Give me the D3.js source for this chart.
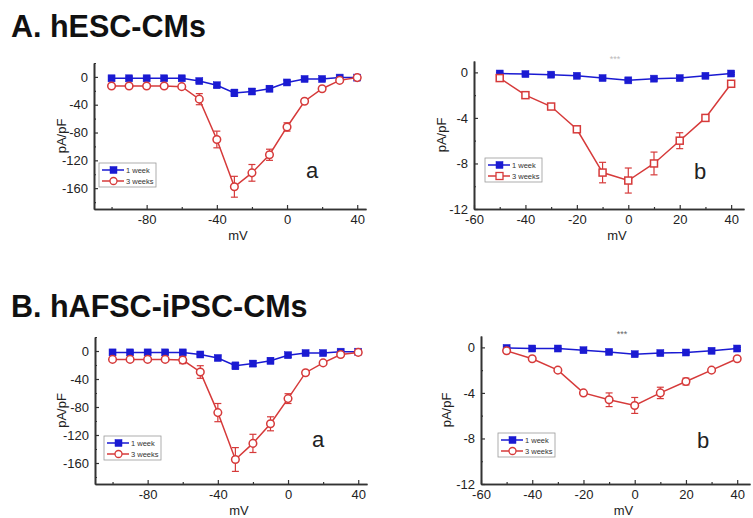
<!DOCTYPE html>
<html>
<head>
<meta charset="utf-8">
<script src="https://cdn.jsdelivr.net/npm/d3@7"></script>
<style>
  body { margin: 0; background: #fff; }
  text { font-family: "Liberation Sans", Arial, sans-serif; }
</style>
</head>
<body>
<svg id="chart" width="753" height="518"></svg>
<script>
// voltages (mV)
const mvWide = [-100, -90, -80, -70, -60, -50, -40, -30, -20, -10, 0, 10, 20, 30, 40];
const mvNarrow = [-50, -40, -30, -20, -10, 0, 10, 20, 30, 40];

// A-a  hESC-CMs, wide range
const aaWeek1    = [-2, -2, -2, -2, -2, -6, -12, -23, -21, -17, -8, -3, -3, -1, -1];
const aaWeek1Err = [2, 2, 2, 2, 2, 2, 3, 5, 4, 4, 3, 2, 2, 2, 2];
const aaWeek3    = [-13, -13, -13, -13, -14, -32, -90, -158, -138, -112, -72, -35, -17, -5, -1];
const aaWeek3Err = [2, 2, 2, 2, 2, 8, 12, 15, 12, 8, 6, 3, 2, 2, 1];

// A-b  hESC-CMs, narrow range
const abWeek1    = [-0.1, -0.15, -0.2, -0.3, -0.5, -0.7, -0.55, -0.5, -0.3, -0.1];
const abWeek1Err = [0.1, 0.1, 0.1, 0.1, 0.1, 0.1, 0.1, 0.1, 0.1, 0.1];
const abWeek3    = [-0.5, -2, -3, -5, -8.8, -9.5, -8, -6, -4, -1];
const abWeek3Err = [0.1, 0.1, 0.15, 0.2, 0.9, 1.1, 1.0, 0.7, 0.2, 0.1];

// B-a  hAFSC-iPSC-CMs, wide range
const baWeek1    = [-2, -2, -2, -2, -2, -5, -10, -21, -18, -14, -6, -3, -3, -1, -1];
const baWeek1Err = [2, 2, 2, 2, 2, 2, 3, 5, 4, 4, 3, 2, 2, 2, 2];
const baWeek3    = [-12, -12, -12, -12, -13, -30, -88, -155, -132, -104, -68, -31, -17, -5, -2];
const baWeek3Err = [2, 2, 2, 2, 5, 9, 13, 17, 13, 10, 7, 3, 2, 2, 1];

// B-b  hAFSC-iPSC-CMs, narrow range
const bbWeek1    = [-0.05, -0.1, -0.1, -0.25, -0.4, -0.6, -0.5, -0.45, -0.3, -0.1];
const bbWeek1Err = [0.1, 0.1, 0.1, 0.1, 0.1, 0.1, 0.1, 0.1, 0.1, 0.1];
const bbWeek3    = [-0.3, -1, -2, -4, -4.6, -5.1, -4, -3, -2, -1];
const bbWeek3Err = [0.1, 0.1, 0.1, 0.15, 0.6, 0.7, 0.5, 0.3, 0.1, 0.1];

// ticks
const xTicksWide = [-80, -40, 0, 40];
const xMinorWide = [-100, -60, -20, 20];
const yTicksWide = [0, -40, -80, -120, -160];
const yMinorWide = [20, -20, -60, -100, -140, -180];
const xTicksNarrow = [-60, -40, -20, 0, 20, 40];
const xMinorNarrow = [-50, -30, -10, 10, 30];
const yTicksNarrow = [0, -4, -8, -12];
const yMinorNarrow = [-2, -6, -10];

const legendLabels = ["1 week", "3 weeks"];
const titles = ["A. hESC-CMs", "B. hAFSC-iPSC-CMs"];

const blue = "#1a1ad2";
const red = "#d63a3a";
const axisColor = "#333";

const svg = d3.select("#chart");

svg.selectAll("text.title")
  .data(titles)
  .join("text")
  .attr("class", "title")
  .attr("x", 11)
  .attr("y", (d, i) => i === 0 ? 37 : 317)
  .attr("font-size", 30.5)
  .attr("font-weight", "bold")
  .attr("fill", "#111")
  .text(d => d);

function drawPanel(p) {
  const x = d3.scaleLinear().domain(p.xDomain).range(p.xRange);
  const y = d3.scaleLinear().domain(p.yDomain).range(p.yRange);
  const g = svg.append("g");

  // axes
  g.append("g")
    .attr("transform", `translate(0,${p.yRange[0]})`)
    .call(d3.axisBottom(x).tickValues(p.xTicks).tickSizeInner(-4).tickSizeOuter(0)
      .tickPadding(6).tickFormat(d => String(d)));
  g.append("g")
    .attr("transform", `translate(0,${p.yRange[0]})`)
    .call(d3.axisBottom(x).tickValues(p.xMinor).tickSizeInner(-2).tickSizeOuter(0).tickFormat(""));
  g.append("g")
    .attr("transform", `translate(${p.xRange[0]},0)`)
    .call(d3.axisLeft(y).tickValues(p.yTicks).tickSizeInner(-4).tickSizeOuter(0)
      .tickPadding(6).tickFormat(d => String(d)));
  g.append("g")
    .attr("transform", `translate(${p.xRange[0]},0)`)
    .call(d3.axisLeft(y).tickValues(p.yMinor).tickSizeInner(-2).tickSizeOuter(0).tickFormat(""));

  g.selectAll(".domain").attr("stroke", axisColor).attr("stroke-width", 1.6);
  g.selectAll(".tick line").attr("stroke", axisColor).attr("stroke-width", 1.2);
  g.selectAll(".tick text").attr("font-size", 13).attr("fill", "#222")
    .attr("font-family", "'Liberation Sans', Arial, sans-serif");

  // axis titles
  g.append("text")
    .attr("x", (p.xRange[0] + p.xRange[1]) / 2 + p.mvShift)
    .attr("y", p.yRange[0] + 31)
    .attr("text-anchor", "middle")
    .attr("font-size", 13).attr("fill", "#222")
    .text("mV");
  g.append("text")
    .attr("transform", `translate(${p.yLabelX},${(p.yRange[0] + p.yRange[1]) / 2}) rotate(-90)`)
    .attr("text-anchor", "middle")
    .attr("font-size", 13).attr("fill", "#222")
    .text("pA/pF");

  const line = d3.line().x((d, i) => x(p.mv[i])).y(d => y(d));

  const series = [
    { vals: p.week1, err: p.week1Err, color: blue, shape: "square", filled: true },
    { vals: p.week3, err: p.week3Err, color: red, shape: p.redShape, filled: false }
  ];

  series.forEach(s => {
    const sg = g.append("g");
    sg.append("path")
      .attr("d", line(s.vals))
      .attr("fill", "none")
      .attr("stroke", s.color)
      .attr("stroke-width", 1.5);

    const pts = sg.selectAll("g.pt")
      .data(s.vals.map((v, i) => ({ v, e: s.err[i], mv: p.mv[i] })))
      .join("g")
      .attr("class", "pt");

    pts.append("line")
      .attr("x1", d => x(d.mv)).attr("x2", d => x(d.mv))
      .attr("y1", d => y(d.v - d.e)).attr("y2", d => y(d.v + d.e))
      .attr("stroke", s.color).attr("stroke-width", 1.2);
    pts.append("line")
      .attr("x1", d => x(d.mv) - 3.5).attr("x2", d => x(d.mv) + 3.5)
      .attr("y1", d => y(d.v - d.e)).attr("y2", d => y(d.v - d.e))
      .attr("stroke", s.color).attr("stroke-width", 1.2);
    pts.append("line")
      .attr("x1", d => x(d.mv) - 3.5).attr("x2", d => x(d.mv) + 3.5)
      .attr("y1", d => y(d.v + d.e)).attr("y2", d => y(d.v + d.e))
      .attr("stroke", s.color).attr("stroke-width", 1.2);

    if (s.shape === "square") {
      const sz = 7;
      pts.append("rect")
        .attr("x", d => x(d.mv) - sz / 2).attr("y", d => y(d.v) - sz / 2)
        .attr("width", sz).attr("height", sz)
        .attr("fill", s.filled ? s.color : "#fff")
        .attr("stroke", s.color).attr("stroke-width", s.filled ? 0.5 : 1.5);
    } else {
      pts.append("circle")
        .attr("cx", d => x(d.mv)).attr("cy", d => y(d.v))
        .attr("r", 3.8)
        .attr("fill", "#fff")
        .attr("stroke", s.color).attr("stroke-width", 1.5);
    }
  });

  // legend
  const lg = g.append("g").attr("transform", `translate(${p.legend[0]},${p.legend[1]})`);
  lg.append("rect")
    .attr("width", 57).attr("height", 24)
    .attr("fill", "#fff").attr("stroke", "#999").attr("stroke-width", 0.8);
  series.forEach((s, i) => {
    const ly = 7 + i * 11;
    lg.append("line").attr("x1", 3).attr("x2", 25).attr("y1", ly).attr("y2", ly)
      .attr("stroke", s.color).attr("stroke-width", 1.5);
    if (s.shape === "square") {
      lg.append("rect").attr("x", 11).attr("y", ly - 3.5).attr("width", 7).attr("height", 7)
        .attr("fill", s.filled ? s.color : "#fff").attr("stroke", s.color)
        .attr("stroke-width", s.filled ? 0.5 : 1.3);
    } else {
      lg.append("circle").attr("cx", 14.5).attr("cy", ly).attr("r", 3.5)
        .attr("fill", "#fff").attr("stroke", s.color).attr("stroke-width", 1.3);
    }
    lg.append("text").attr("x", 27).attr("y", ly + 2.5)
      .attr("font-size", 7.5).attr("fill", "#333")
      .text(legendLabels[i]);
  });

  // panel letter
  g.append("text")
    .attr("x", p.letterPos[0]).attr("y", p.letterPos[1])
    .attr("text-anchor", "middle")
    .attr("font-size", 22).attr("fill", "#222")
    .text(p.letter);

  if (p.stars) {
    g.append("text")
      .attr("x", p.stars[0]).attr("y", p.stars[1])
      .attr("text-anchor", "middle")
      .attr("font-size", 9).attr("fill", p.stars[2])
      .text("***");
  }
}

drawPanel({
  mv: mvWide, week1: aaWeek1, week1Err: aaWeek1Err, week3: aaWeek3, week3Err: aaWeek3Err,
  xDomain: [-110, 45], xRange: [94, 366], yDomain: [-190, 20], yRange: [209, 63],
  xTicks: xTicksWide, xMinor: xMinorWide, yTicks: yTicksWide, yMinor: yMinorWide,
  redShape: "circle", legend: [99, 163], letter: "a", letterPos: [312, 178],
  yLabelX: 66, mvShift: 8
});

drawPanel({
  mv: mvNarrow, week1: abWeek1, week1Err: abWeek1Err, week3: abWeek3, week3Err: abWeek3Err,
  xDomain: [-60, 45], xRange: [474, 744], yDomain: [-12, 1], yRange: [209, 61],
  xTicks: xTicksNarrow, xMinor: xMinorNarrow, yTicks: yTicksNarrow, yMinor: yMinorNarrow,
  redShape: "square", legend: [485, 158], letter: "b", letterPos: [700, 179],
  yLabelX: 446, mvShift: 8, stars: [615, 62, "#bbb"]
});

drawPanel({
  mv: mvWide, week1: baWeek1, week1Err: baWeek1Err, week3: baWeek3, week3Err: baWeek3Err,
  xDomain: [-110, 45], xRange: [95, 367], yDomain: [-190, 20], yRange: [484, 337],
  xTicks: xTicksWide, xMinor: xMinorWide, yTicks: yTicksWide, yMinor: yMinorWide,
  redShape: "circle", legend: [104, 436], letter: "a", letterPos: [318, 447],
  yLabelX: 66, mvShift: 8
});

drawPanel({
  mv: mvNarrow, week1: bbWeek1, week1Err: bbWeek1Err, week3: bbWeek3, week3Err: bbWeek3Err,
  xDomain: [-60, 45], xRange: [481, 750], yDomain: [-12, 1], yRange: [484, 336],
  xTicks: xTicksNarrow, xMinor: xMinorNarrow, yTicks: yTicksNarrow, yMinor: yMinorNarrow,
  redShape: "circle", legend: [498, 433], letter: "b", letterPos: [703, 448],
  yLabelX: 451, mvShift: 8, stars: [622, 337, "#666"]
});
</script>
</body>
</html>
